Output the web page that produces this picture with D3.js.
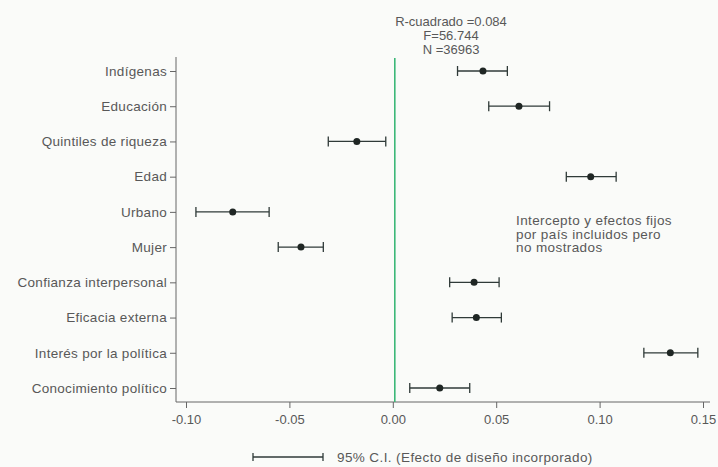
<!DOCTYPE html>
<html><head><meta charset="utf-8">
<script src="https://cdn.jsdelivr.net/npm/d3@7"></script>
<style>
html,body{margin:0;padding:0;background:#fafbf9;}
svg{display:block;font-family:"Liberation Sans",Arial,sans-serif;}
</style></head>
<body>
<svg id="c" width="718" height="467"></svg>
<script>
const categories = ["Indígenas","Educación","Quintiles de riqueza","Edad","Urbano","Mujer","Confianza interpersonal","Eficacia externa","Interés por la política","Conocimiento político"];
const estimates = [0.0436, 0.0610, -0.0174, 0.0957, -0.0774, -0.0444, 0.0393, 0.0404, 0.1342, 0.0227];
const lower =     [0.0313, 0.0464, -0.0312, 0.0839, -0.0952, -0.0554, 0.0275, 0.0287, 0.1214, 0.0082];
const upper =     [0.0554, 0.0758, -0.0034, 0.1080, -0.0598, -0.0336, 0.0514, 0.0525, 0.1475, 0.0372];
const xTicks = [-0.10, -0.05, 0.00, 0.05, 0.10, 0.15];
const statsText = ["R-cuadrado =0.084", "F=56.744", "N =36963"];
const noteText = ["Intercepto y efectos fijos", "por país incluidos pero", "no mostrados"];
const legendText = "95% C.I. (Efecto de diseño incorporado)";

const svg = d3.select("#c");
const textCol = "#585858";
const axisCol = "#666";
const markCol = "#2f3a38";
const ff = "'Liberation Sans',Arial,sans-serif";

const x = d3.scaleLinear().domain([-0.10, 0.15]).range([186, 703]);
const y = d3.scalePoint().domain(categories).range([71, 388]);
const axisLeft = 176, axisBottom = 402, axisTop = 57, axisRight = 710;

// y axis
svg.append("line").attr("x1",axisLeft).attr("x2",axisLeft).attr("y1",axisTop).attr("y2",axisBottom)
  .attr("stroke",axisCol).attr("stroke-width",1);
const yg = svg.append("g").attr("transform",`translate(${axisLeft},0)`)
  .call(d3.axisLeft(y).tickSize(6).tickPadding(3));
yg.select(".domain").remove();
yg.selectAll(".tick line").attr("stroke",axisCol);
yg.selectAll(".tick text").attr("fill",textCol).style("font-size","13.5px").style("letter-spacing","0.3px").style("font-family",ff);

// x axis
svg.append("line").attr("x1",axisLeft).attr("x2",axisRight).attr("y1",axisBottom).attr("y2",axisBottom)
  .attr("stroke",axisCol).attr("stroke-width",1);
const xg = svg.append("g").attr("transform",`translate(0,${axisBottom})`)
  .call(d3.axisBottom(x).tickValues(xTicks).tickSize(6).tickPadding(7));
xg.select(".domain").remove();
xg.selectAll(".tick line").attr("stroke",axisCol);
xg.selectAll(".tick text").attr("fill",textCol).style("font-size","13px").style("font-family",ff)
  .text(d => d < 0 ? "-" + Math.abs(d).toFixed(2) : d.toFixed(2));

// zero line
svg.append("line").attr("x1",x(0)+2).attr("x2",x(0)+2).attr("y1",58).attr("y2",axisBottom)
  .attr("stroke","#3cb878").attr("stroke-width",1.6);

// error bars
const rows = categories.map((c,i)=>({c, est:estimates[i], lo:lower[i], hi:upper[i]}));
const g = svg.append("g");
g.selectAll("line.ci").data(rows).join("line").attr("class","ci")
  .attr("x1",d=>x(d.lo)).attr("x2",d=>x(d.hi)).attr("y1",d=>y(d.c)).attr("y2",d=>y(d.c))
  .attr("stroke",markCol).attr("stroke-width",1.3);
g.selectAll("line.capl").data(rows).join("line").attr("class","capl")
  .attr("x1",d=>x(d.lo)).attr("x2",d=>x(d.lo)).attr("y1",d=>y(d.c)-5).attr("y2",d=>y(d.c)+5)
  .attr("stroke",markCol).attr("stroke-width",1.3);
g.selectAll("line.capr").data(rows).join("line").attr("class","capr")
  .attr("x1",d=>x(d.hi)).attr("x2",d=>x(d.hi)).attr("y1",d=>y(d.c)-5).attr("y2",d=>y(d.c)+5)
  .attr("stroke",markCol).attr("stroke-width",1.3);
g.selectAll("circle").data(rows).join("circle")
  .attr("cx",d=>x(d.est)).attr("cy",d=>y(d.c)).attr("r",3.5).attr("fill","#1f2624");

// stats text
svg.append("g").selectAll("text").data(statsText).join("text")
  .attr("x",451).attr("y",(d,i)=>26+i*14).attr("text-anchor","middle")
  .attr("fill",textCol).style("font-size","13px").text(d=>d);

// note
svg.append("g").selectAll("text").data(noteText).join("text")
  .attr("x",516).attr("y",(d,i)=>225+i*13.5)
  .attr("fill",textCol).style("font-size","13.5px").style("letter-spacing","0.4px").text(d=>d);

// legend
const ly = 457;
svg.append("line").attr("x1",253).attr("x2",323).attr("y1",ly).attr("y2",ly).attr("stroke",markCol).attr("stroke-width",1.3);
svg.append("line").attr("x1",253).attr("x2",253).attr("y1",ly-4).attr("y2",ly+4).attr("stroke",markCol).attr("stroke-width",1.3);
svg.append("line").attr("x1",323).attr("x2",323).attr("y1",ly-4).attr("y2",ly+4).attr("stroke",markCol).attr("stroke-width",1.3);
svg.append("text").attr("x",337).attr("y",ly+5).attr("fill",textCol).style("font-size","13.5px").style("letter-spacing","0.4px").text(legendText);
</script>
</body></html>
